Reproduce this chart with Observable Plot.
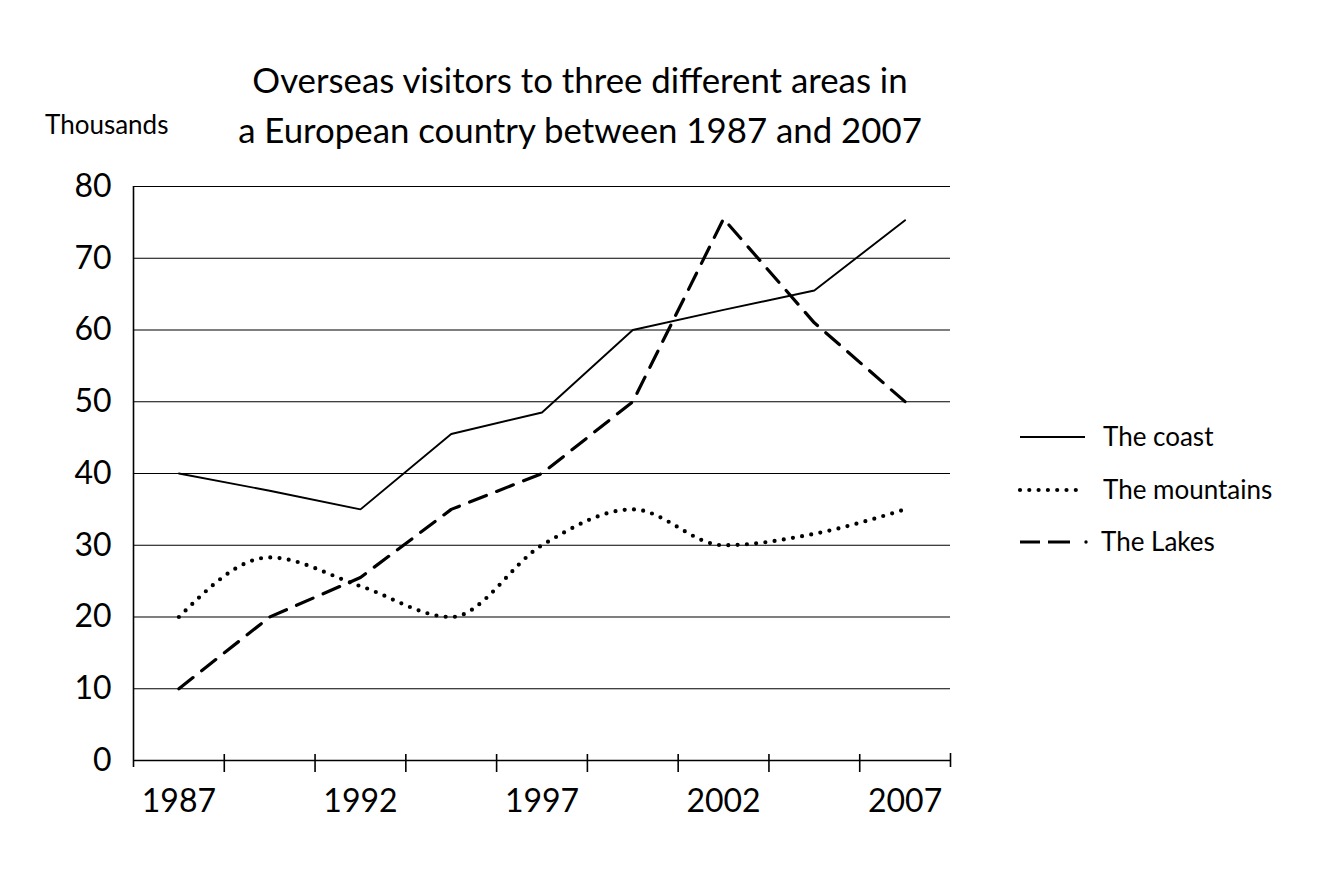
<!DOCTYPE html>
<html>
<head>
<meta charset="utf-8">
<script src="https://cdn.jsdelivr.net/npm/d3@7"></script>
<script src="https://cdn.jsdelivr.net/npm/@observablehq/plot@0.6"></script>
<style>
  html, body { margin: 0; padding: 0; background: #fff; }
  #page { position: relative; width: 1341px; height: 881px; font-family: Lato, "Open Sans", sans-serif; color: #000; }
  #header { position: relative; height: 150px; }
  #title { position: absolute; left: 0; top: 55px; width: 1160px; text-align: center; font-size: 34.8px; line-height: 50px; }
  #unit { position: absolute; left: 45px; top: 111px; font-size: 26px; line-height: 1; }
  #chart svg { display: block; }
  #legend { position: absolute; left: 0; top: 0; pointer-events: none; }
  #legend text { font-family: Lato, "Open Sans", sans-serif; font-size: 26px; fill: #000; }
</style>
</head>
<body>
<div id="page">
  <div id="header">
    <div id="title">Overseas visitors to three different areas in<br>a European country between 1987 and 2007</div>
    <div id="unit">Thousands</div>
  </div>
  <div id="chart"></div>
  <svg id="legend" width="1341" height="881"></svg>
</div>
<script>
// Survey periods (every two and a half years) and the labelled years
const periods = [1987, 1989.5, 1992, 1994.5, 1997, 1999.5, 2002, 2004.5, 2007];
const labelYears = [1987, 1992, 1997, 2002, 2007];

// Visitors, in thousands
const coast     = [40, 37.6, 35, 45.5, 48.5, 60, 62.8, 65.5, 75.3];
const mountains = [20, 28.3, 24.3, 20, 30, 35, 30, 31.6, 35];
const lakes     = [10, 20, 25.5, 35, 40, 50, 75.5, 61, 50];

const yTicks = [0, 10, 20, 30, 40, 50, 60, 70, 80];
const seriesNames = ["The coast", "The mountains", "The Lakes"];

const halfStep = (periods[1] - periods[0]) / 2;
const xDomain = [periods[0] - halfStep, periods[periods.length - 1] + halfStep];
// Tick marks sit on the borders between periods
const borders = periods.map(p => p + halfStep);

const rows = periods.map((p, i) => ({period: p, coast: coast[i], mountains: mountains[i], lakes: lakes[i]}));

const plot = Plot.plot({
  width: 1341,
  height: 731,
  marginTop: 36,
  marginBottom: 121,
  marginLeft: 133,
  marginRight: 391,
  style: {fontFamily: "Lato, 'Open Sans', sans-serif", fontSize: "32px", color: "#000", background: "transparent", overflow: "visible"},
  x: {domain: xDomain, axis: null},
  y: {domain: [0, 80], axis: null},
  marks: [
    // horizontal grid
    Plot.ruleY(yTicks.slice(1), {stroke: "#000", strokeWidth: 1.2}),
    // baseline and vertical axis
    Plot.ruleY([0], {stroke: "#000", strokeWidth: 1.6}),
    Plot.ruleX([xDomain[0]], {y1: 80, y2: 0, insetBottom: -7, stroke: "#000", strokeWidth: 1.6}),
    // ticks between periods
    Plot.ruleX(borders.slice(0, -1), {y1: 0, y2: 0, insetTop: -6, insetBottom: -12, stroke: "#000", strokeWidth: 1.6}),
    Plot.ruleX(borders.slice(-1), {y1: 0, y2: 0, insetTop: -7, insetBottom: -7, stroke: "#000", strokeWidth: 1.6}),
    // axis labels
    Plot.text(yTicks, {y: d => d, frameAnchor: "left", textAnchor: "end", dx: -22, text: d => String(d)}),
    Plot.text(labelYears, {x: d => d, frameAnchor: "bottom", lineAnchor: "top", dy: 29, text: d => String(d)}),
    // series
    Plot.line(rows, {x: "period", y: "coast", stroke: "#000", strokeWidth: 1.9, strokeLinejoin: "miter"}),
    Plot.line(rows, {x: "period", y: "lakes", stroke: "#000", strokeWidth: 3.2, strokeDasharray: "18 11"}),
    Plot.line(rows, {x: "period", y: "mountains", stroke: "#000", strokeWidth: 4.2, strokeDasharray: "0 9.3", strokeLinecap: "round", curve: "monotone-x"})
  ]
});
document.getElementById("chart").appendChild(plot);

// Legend: line samples with their names
const legend = d3.select("#legend");
const legendX = 1020, legendTextX = 1103, legendY = [437, 490, 542];
const samples = [
  {stroke: 1.9, dash: null, cap: "butt", x2: 1085},
  {stroke: 4.2, dash: "0 9.3", cap: "round", x2: 1080},
  {stroke: 3.2, dash: "20 8 22 100", cap: "butt", x2: 1070}
];
seriesNames.forEach((name, i) => {
  const s = samples[i];
  legend.append("line")
    .attr("x1", legendX).attr("x2", s.x2)
    .attr("y1", legendY[i]).attr("y2", legendY[i])
    .attr("stroke", "#000").attr("stroke-width", s.stroke)
    .attr("stroke-linecap", s.cap)
    .attr("stroke-dasharray", s.dash);
  if (i === 2) legend.append("circle").attr("cx", 1086).attr("cy", legendY[i]).attr("r", 1.7).attr("fill", "#000");
  legend.append("text")
    .attr("x", legendTextX - (i === 2 ? 2 : 0))
    .attr("y", legendY[i] + 9)
    .text(name);
});
</script>
</body>
</html>
